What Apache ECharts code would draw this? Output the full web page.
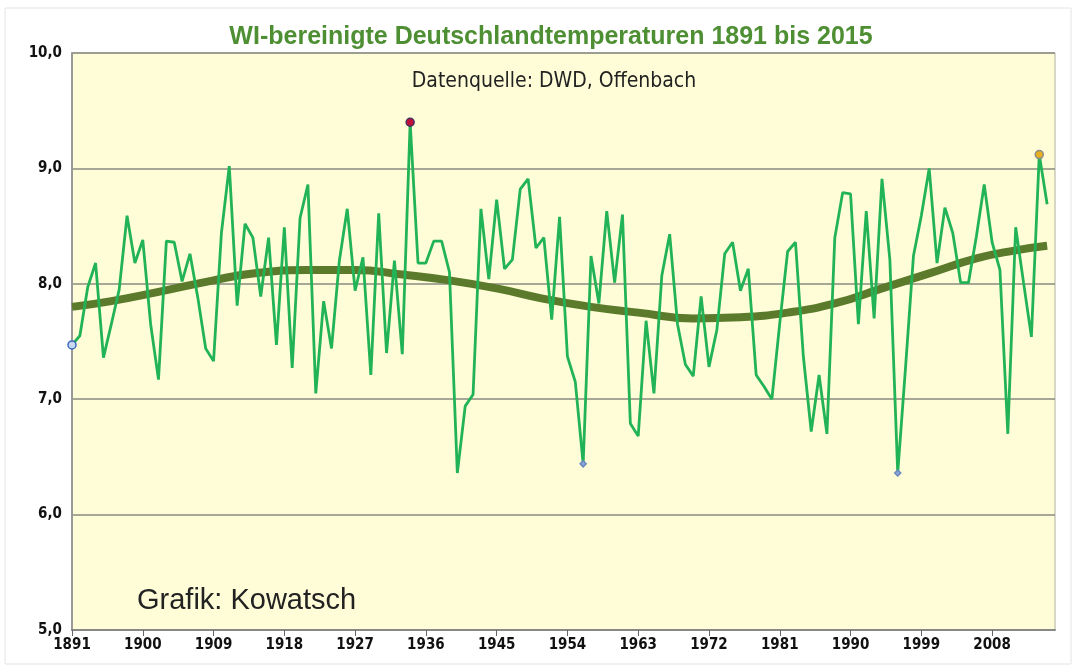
<!DOCTYPE html>
<html>
<head>
    <meta charset="utf-8" />
    <title>WI-bereinigte Deutschlandtemperaturen</title>
    <style>
        html, body { margin: 0; padding: 0; background: #fff; }
        #chart { width: 1076px; height: 668px; }
    </style>
</head>
<body>
    <div id="chart"></div>
    <script src="https://cdn.jsdelivr.net/npm/echarts@6/dist/echarts.min.js"></script>
    <script>
        // Jahresmittel 1891 - 2015
        var firstYear = 1891;
        var temps = [
            7.47, 7.55, 7.97, 8.18, 7.36, 7.65, 7.95, 8.59, 8.18, 8.38,
            7.65, 7.17, 8.37, 8.36, 8.02, 8.26, 7.88, 7.44, 7.33, 8.44,
            9.02, 7.81, 8.52, 8.40, 7.89, 8.40, 7.47, 8.49, 7.27, 8.57,
            8.86, 7.05, 7.85, 7.44, 8.20, 8.65, 7.94, 8.23, 7.21, 8.61,
            7.40, 8.20, 7.39, 9.40, 8.18, 8.18, 8.37, 8.37, 8.10, 6.36,
            6.94, 7.04, 8.65, 8.04, 8.73, 8.13, 8.21, 8.82, 8.91, 8.31,
            8.40, 7.69, 8.58, 7.37, 7.15, 6.44, 8.24, 7.83, 8.63, 8.01,
            8.60, 6.79, 6.68, 7.68, 7.05, 8.07, 8.43, 7.65, 7.30, 7.20,
            7.89, 7.28, 7.60, 8.26, 8.36, 7.94, 8.13, 7.21, 7.11, 7.00,
            7.66, 8.28, 8.36, 7.37, 6.72, 7.21, 6.70, 8.40, 8.79, 8.78,
            7.65, 8.63, 7.70, 8.91, 8.21, 6.36, 7.28, 8.24, 8.59, 9.00,
            8.18, 8.66, 8.44, 8.01, 8.01, 8.41, 8.86, 8.36, 8.12, 6.70,
            8.49, 8.01, 7.54, 9.12, 8.69
        ];

        // Polynomischer Trend (Stützstellen aus der Grafik)
        var trendYears  = [1891, 1896, 1902, 1909, 1914, 1921, 1927, 1933, 1939, 1945, 1951, 1957, 1963, 1970, 1976, 1982, 1988, 1994, 2000, 2006, 2011, 2015];
        var trendValues = [7.80, 7.85, 7.93, 8.03, 8.09, 8.12, 8.12, 8.08, 8.03, 7.96, 7.87, 7.80, 7.75, 7.70, 7.71, 7.75, 7.83, 7.96, 8.09, 8.22, 8.29, 8.33];

        // hervorgehobene Jahre
        var markYears   = [1891, 1934, 1956, 1996, 2014];
        var markSymbols = ['circle', 'circle', 'diamond', 'diamond', 'circle'];
        var markColors  = ['#c8d8f0', '#c0103a', '#8aa8d8', '#8aa8d8', '#e8b020'];
        var markBorders = ['#3a6ac0', '#4a3060', '#6a88c0', '#6a88c0', '#8a8a8a'];

        var yTicks = [5, 6, 7, 8, 9, 10];

        var years = [];
        for (var y = firstYear; y <= 2016; y++) years.push(String(y));

        var lineData = temps.map(function (v, i) {
            var yr = firstYear + i;
            var k = markYears.indexOf(yr);
            if (k < 0) return v;
            return {
                value: v,
                symbol: markSymbols[k],
                symbolSize: markSymbols[k] === 'diamond' ? 6 : 8,
                itemStyle: { color: markColors[k], borderColor: markBorders[k], borderWidth: 1.5 }
            };
        });

        var trendData = trendYears.map(function (yr, i) {
            return [String(yr), trendValues[i]];
        });

        var chart = echarts.init(document.getElementById('chart'));
        var option = {
            backgroundColor: '#fff',
            animation: false,
            title: [{
                text: 'WI-bereinigte Deutschlandtemperaturen 1891 bis 2015',
                left: 546,
                textAlign: 'center',
                top: 20,
                textStyle: { color: '#4e8f34', fontSize: 25, fontWeight: 'bold', fontFamily: 'Liberation Sans, Arial' }
            }, {
                text: 'Datenquelle: DWD, Offenbach',
                left: 549,
                textAlign: 'center',
                top: 66,
                textStyle: { color: '#222', fontSize: 21, fontWeight: 'normal', fontFamily: 'DejaVu Sans Condensed, Arial' }
            }, {
                text: 'Grafik: Kowatsch',
                left: 132,
                top: 581,
                textStyle: { color: '#222', fontSize: 29, fontWeight: 'normal', fontFamily: 'Liberation Sans, Arial' }
            }],
            grid: {
                left: 72, right: 21, top: 53, bottom: 38,
                show: true,
                backgroundColor: '#fefdd7',
                borderColor: '#b0b0a0',
                borderWidth: 1
            },
            xAxis: {
                type: 'category',
                data: years,
                boundaryGap: false,
                axisLine: { lineStyle: { color: '#888', width: 2 } },
                axisTick: { interval: 8, length: 6, lineStyle: { color: '#666' } },
                axisLabel: {
                    interval: 8, margin: 8,
                    color: '#111', fontSize: 15, fontWeight: 'bold',
                    fontFamily: 'DejaVu Sans Condensed, Arial'
                },
                splitLine: { show: false }
            },
            yAxis: {
                type: 'value',
                min: yTicks[0],
                max: yTicks[yTicks.length - 1],
                interval: 1,
                axisLine: { show: true, lineStyle: { color: '#999', width: 2 } },
                axisTick: { show: false },
                axisLabel: {
                    margin: 10,
                    color: '#111', fontSize: 15, fontWeight: 'bold',
                    fontFamily: 'DejaVu Sans Condensed, Arial',
                    formatter: function (v) { return v.toFixed(1).replace('.', ','); }
                },
                splitLine: { lineStyle: { color: '#8a8a80', width: 1.5 } }
            },
            series: [{
                name: 'Trend',
                type: 'line',
                data: trendData,
                smooth: true,
                showSymbol: false,
                lineStyle: { color: '#5b7a2c', width: 8 },
                z: 2
            }, {
                name: 'Temperatur',
                type: 'line',
                data: lineData,
                symbol: 'none',
                showSymbol: true,
                showAllSymbol: true,
                lineStyle: { color: '#22b356', width: 2.8 },
                itemStyle: { color: '#22b356' },
                z: 3
            }],
            graphic: [{
                type: 'rect',
                shape: { x: 5, y: 8, width: 1066, height: 656 },
                style: { fill: 'none', stroke: '#e4e4e4', lineWidth: 1 },
                silent: true
            }]
        };
        chart.setOption(option);
    </script>
</body>
</html>
